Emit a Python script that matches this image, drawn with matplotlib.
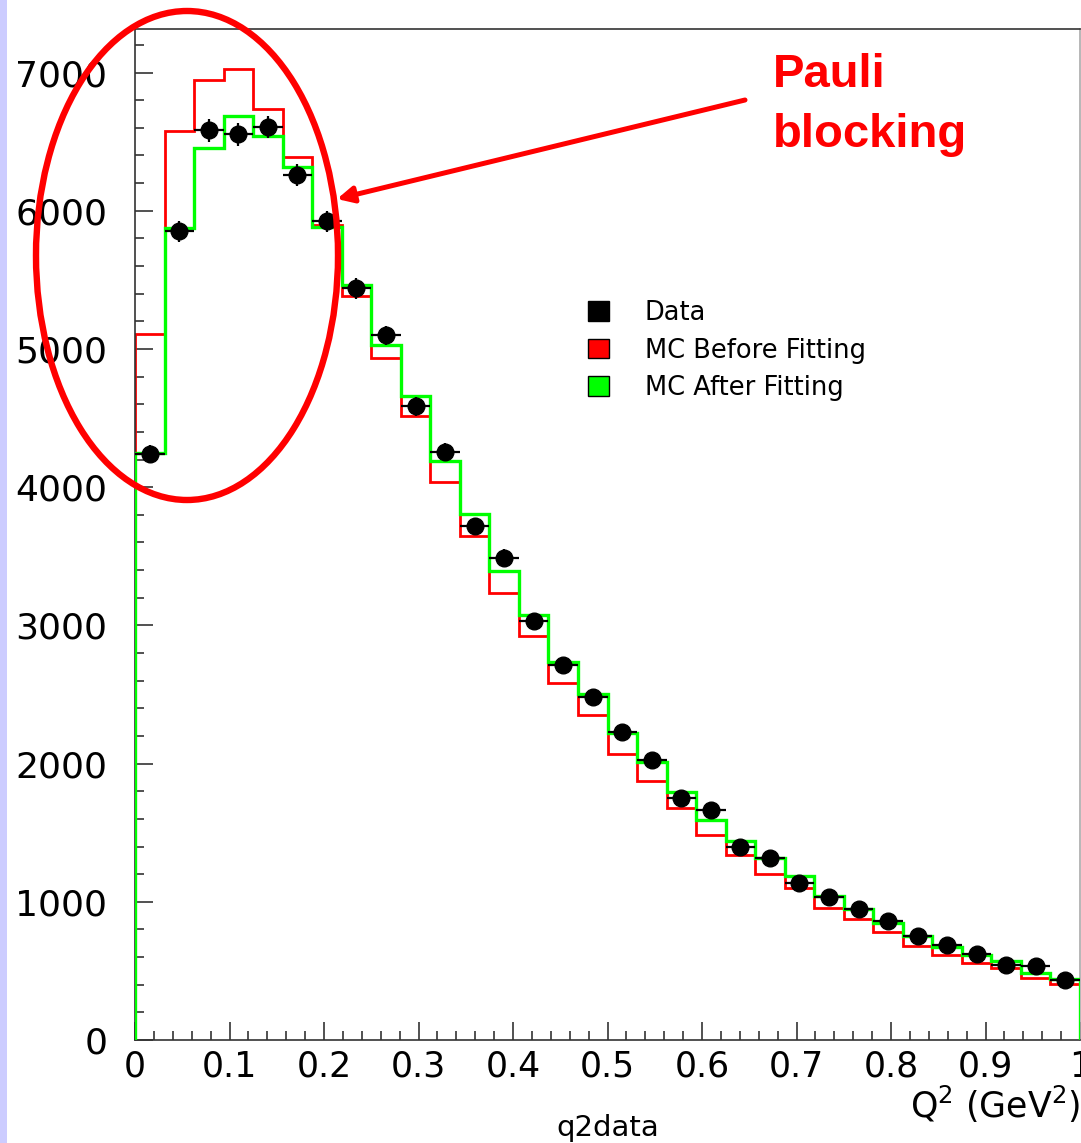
import numpy as np
import matplotlib
matplotlib.use("Agg")
import matplotlib.pyplot as plt
from matplotlib.patches import Ellipse, Rectangle, Patch

# Q^2 histogram, 32 bins from 0 to 1 GeV^2
bin_edges = np.linspace(0, 1, 33)

data = [4240, 5850, 6582, 6553, 6604, 6256, 5923, 5438, 5098, 4586, 4253, 3717,
        3490, 3029, 2715, 2484, 2232, 2027, 1752, 1665, 1400, 1318, 1137, 1038,
        949, 864, 753, 688, 623, 543, 536, 434]
data_err = [65, 76, 81, 81, 81, 79, 77, 74, 71, 68, 65, 61, 59, 55, 52, 50,
            47, 45, 42, 41, 37, 36, 34, 32, 31, 29, 27, 26, 25, 23, 23, 21]
mc_before = [5105, 6575, 6944, 7024, 6734, 6387, 5900, 5382, 4931, 4513, 4035, 3645,
             3237, 2920, 2585, 2353, 2071, 1875, 1680, 1480, 1340, 1202, 1101, 958,
             879, 784, 681, 615, 557, 521, 449, 405]
mc_after = [4250, 5872, 6452, 6684, 6539, 6314, 5880, 5462, 5032, 4663, 4188, 3809,
            3391, 3072, 2737, 2505, 2223, 2013, 1791, 1593, 1443, 1318, 1188, 1043,
            949, 849, 753, 676, 615, 574, 487, 442]

W, H = 1081, 1143
fig = plt.figure(figsize=(W / 100, H / 100), dpi=100)

# lavender strip on the left edge
fig.patches.append(Rectangle((0, 0), 7 / W, 1, transform=fig.transFigure,
                             facecolor="#ccccff", edgecolor="none", zorder=0))

ax = fig.add_axes([135 / W, 1 - 1040 / H, 945 / W, 1011 / H])

centers = 0.5 * (bin_edges[:-1] + bin_edges[1:])
half_w = 0.5 * (bin_edges[1] - bin_edges[0])

ax.stairs(mc_before, bin_edges, baseline=0, color="#ff0000", lw=2.0, zorder=2)
ax.stairs(mc_after, bin_edges, baseline=0, color="#00ff00", lw=2.4, zorder=3)
ax.errorbar(centers, data, xerr=half_w, yerr=data_err, fmt="o", color="black",
            ms=12, elinewidth=1.6, capsize=0, zorder=4)

ax.set_xlim(0, 1)
ax.set_ylim(0, 7315)
ax.set_xticks(np.arange(0, 1.01, 0.1))
ax.set_xticklabels(["0", "0.1", "0.2", "0.3", "0.4", "0.5", "0.6", "0.7", "0.8", "0.9", "1"])
ax.set_xticks(np.arange(0, 1.001, 0.02), minor=True)
ax.set_yticks(np.arange(0, 7001, 1000))
ax.set_yticks(np.arange(0, 7301, 200), minor=True)

ax.tick_params(axis="both", which="both", direction="in", top=False, right=False,
               width=1.1, color="#222222")
ax.tick_params(axis="both", which="major", length=13)
ax.tick_params(axis="both", which="minor", length=6.5)
ax.tick_params(axis="y", which="major", labelsize=26, pad=20)
ax.tick_params(axis="x", which="major", labelsize=25, pad=7)
for sp in ax.spines.values():
    sp.set_linewidth(1.2)
    sp.set_color("#333333")
ax.spines["right"].set_color("#aaaaaa")

# legend
handles = [Patch(facecolor="black", edgecolor="black"),
           Patch(facecolor="#ff0000", edgecolor="black"),
           Patch(facecolor="#00ff00", edgecolor="black")]
labels = ["Data", "MC Before Fitting", "MC After Fitting"]
fig.legend(handles, labels, loc="upper left", bbox_to_anchor=(588 / W, 1 - 300 / H),
           frameon=False, fontsize=18.5, handlelength=0.8, handleheight=0.8,
           handletextpad=1.4, labelspacing=0.45, borderpad=0, borderaxespad=0)

# axis labels
fig.text(1080 / W, 1 - 1118 / H, r"Q$^{2}$ (GeV$^{2}$)", ha="right", va="baseline",
         fontsize=25)
fig.text(608 / W, 1 - 1136 / H, "q2data", ha="center", va="baseline", fontsize=21)

# annotation: ellipse, arrow and text
fig.patches.append(Ellipse((187 / W, 1 - 255.5 / H), 302 / W, 489 / H,
                           transform=fig.transFigure, fill=False,
                           edgecolor="#ff0000", lw=4.6, zorder=10))
ax.annotate("", xy=(337, H - 199), xycoords="figure pixels",
            xytext=(745, H - 100), textcoords="figure pixels",
            arrowprops=dict(arrowstyle="-|>", color="#ff0000", lw=3.6,
                            mutation_scale=24, shrinkA=0, shrinkB=0),
            annotation_clip=False)
fig.text(773 / W, 1 - 87 / H, "Pauli", ha="left", va="baseline",
         color="#ff0000", fontsize=34, fontweight="bold",
         family=["Liberation Sans", "DejaVu Sans"])
fig.text(773 / W, 1 - 147 / H, "blocking", ha="left", va="baseline",
         color="#ff0000", fontsize=34, fontweight="bold",
         family=["Liberation Sans", "DejaVu Sans"])

fig.savefig("out.png", dpi=100)
